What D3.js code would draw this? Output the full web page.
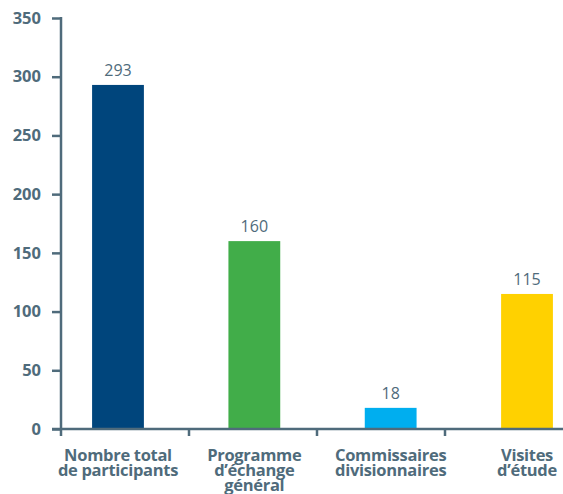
<!DOCTYPE html>
<html>
<head>
<meta charset="utf-8">
<script src="https://cdn.jsdelivr.net/npm/d3@7"></script>
<style>
  body { margin: 0; background: #fff; }
  text { font-family: "Open Sans", sans-serif; }
</style>
</head>
<body>
<div id="chart"></div>
<script>
// Data
const categories = [
  ["Nombre total", "de participants"],
  ["Programme", "d\u2019échange", "général"],
  ["Commissaires", "divisionnaires"],
  ["Visites", "d\u2019étude"]
];
const values = [293, 160, 18, 115];
const colors = ["#00457c", "#41ad49", "#00aeef", "#ffd100"];
const yTicks = [0, 50, 100, 150, 200, 250, 300, 350];

const width = 563, height = 494;
const axisColor = "#4f6b7b";

const svg = d3.select("#chart")
  .append("svg")
  .attr("width", width)
  .attr("height", height);

// Scales
const x = d3.scaleBand()
  .domain(d3.range(values.length))
  .range([61, 584])
  .paddingInner(0.62)
  .paddingOuter(0.228);

const y = d3.scaleLinear().domain([0, 350]).range([429, 18]);

// tick marks along the x axis (not aligned with bars in the original)
const xt = d3.scaleLinear().domain([0, 4]).range([61, 573]);

// Bars
svg.selectAll(".bar")
  .data(values)
  .enter().append("rect")
  .attr("x", (d, i) => x(i))
  .attr("y", d => y(d))
  .attr("width", x.bandwidth())
  .attr("height", d => y(0) - y(d))
  .attr("fill", (d, i) => colors[i]);

// Value labels
svg.selectAll(".val")
  .data(values)
  .enter().append("text")
  .attr("x", (d, i) => x(i) + x.bandwidth() / 2)
  .attr("y", d => y(d) - 9)
  .attr("text-anchor", "middle")
  .attr("fill", axisColor)
  .style("font-size", "16px")
  .text(d => d);

// Y axis
const yAxis = svg.append("g")
  .attr("transform", "translate(61,0)")
  .call(d3.axisLeft(y).tickValues(yTicks).tickSize(9).tickPadding(11));
yAxis.select(".domain").remove();
yAxis.selectAll("line").attr("stroke", axisColor).attr("stroke-width", 2.5);
yAxis.selectAll("text")
  .attr("fill", axisColor)
  .style("font-size", "16.5px")
  .style("font-weight", "bold");

svg.append("line")
  .attr("x1", 61).attr("x2", 61)
  .attr("y1", y(350) - 1).attr("y2", y(0) + 7)
  .attr("stroke", axisColor).attr("stroke-width", 2.5);

// X axis line
svg.append("line")
  .attr("x1", 52).attr("x2", width)
  .attr("y1", y(0)).attr("y2", y(0))
  .attr("stroke", axisColor).attr("stroke-width", 2.5);

svg.selectAll(".xtick")
  .data([1, 2, 3])
  .enter().append("line")
  .attr("x1", d => xt(d)).attr("x2", d => xt(d))
  .attr("y1", y(0)).attr("y2", y(0) + 7)
  .attr("stroke", axisColor).attr("stroke-width", 2.5);

// Category labels, one text per line
categories.forEach((lines, i) => {
  const cx = x(i) + x.bandwidth() / 2;
  lines.forEach((line, j) => {
    svg.append("text")
      .attr("x", cx)
      .attr("y", 461 + j * 15)
      .attr("text-anchor", "middle")
      .attr("fill", axisColor)
      .style("font-size", "16.5px")
      .style("font-weight", "bold")
      .style("letter-spacing", "-0.3px")
      .text(line);
  });
});
</script>
</body>
</html>
